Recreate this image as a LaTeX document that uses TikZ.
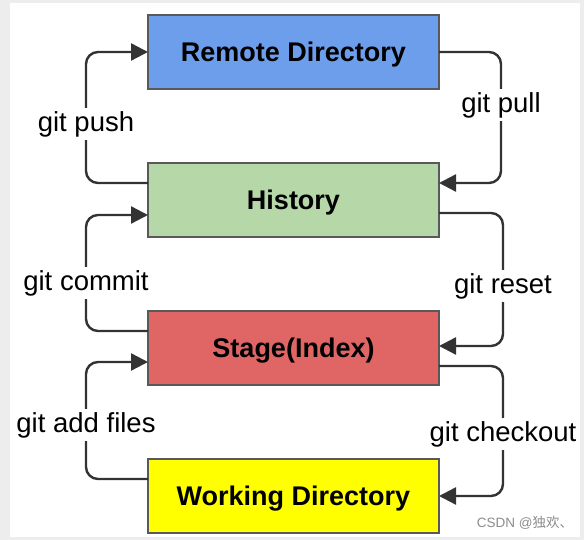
\documentclass[tikz,border=0pt]{standalone}
\usepackage{fontspec}
\setmainfont{Liberation Sans}
\newfontfamily\cjkfont{Noto Sans CJK SC}
\usetikzlibrary{arrows.meta, positioning}
\definecolor{remotefill}{HTML}{6D9EEB}
\definecolor{historyfill}{HTML}{B6D7A8}
\definecolor{stagefill}{HTML}{E06666}
\definecolor{workfill}{HTML}{FFFF00}
\definecolor{boxline}{HTML}{595959}
\definecolor{flowline}{HTML}{333333}
\tikzset{
    area/.style={
        rectangle, draw=boxline, line width=2.4pt,
        minimum width=291pt, minimum height=74pt, outer sep=0pt,
        text depth=0pt,
        font=\fontsize{27}{31}\selectfont\bfseries, align=center
    },
    cmd/.style={
        fill=white, inner sep=3pt,
        font=\fontsize{27.5}{31}\selectfont
    },
    flow/.style={-{Triangle[length=17pt, width=17pt]}, line width=2.4pt,
        draw=flowline, rounded corners=12pt}
}

\begin{document}
\begin{tikzpicture}[x=1pt, y=1pt, node distance=74pt]
    % page and frame
    \fill[black!7] (0,0) rectangle (584,540);
    \fill[white] (10,3) rectangle (580,537);

    % areas
    \node[area, fill=remotefill] (remote) at (293.5,488) {Remote Directory};
    \node[area, fill=historyfill, below=of remote] (history) {History};
    \node[area, fill=stagefill, below=of history] (stage) {Stage(Index)};
    \node[area, fill=workfill, below=of stage] (working) {Working Directory};

    % commands
    \node[cmd] (push) at (86,416) {git push};
    \node[cmd] (commit) at (86,257) {git commit};
    \node[cmd] (add) at (86,115) {git add files};
    \node[cmd] (pull) at (501,435) {git pull};
    \node[cmd] (reset) at (503,254) {git reset};
    \node[cmd] (checkout) at (503,106) {git checkout};

    \draw[flow] ([yshift=17pt]history.west) -| (push) |- (remote.west);
    \draw[flow] ([yshift=17pt]stage.west) -| (commit) |- ([yshift=-15pt]history.west);
    \draw[flow] ([yshift=17pt]working.west) -| (add) |- ([yshift=-14pt]stage.west);
    \draw[flow] (remote.east) -| (pull) |- ([yshift=17pt]history.east);
    \draw[flow] ([yshift=-13pt]history.east) -| (reset) |- ([yshift=2pt]stage.east);
    \draw[flow] ([yshift=-18pt]stage.east) -| (checkout) |- (working.east);

    % watermark
    \node[text=black!45, font=\fontsize{13.5}{15}\selectfont] (mark) at (525,17) {CSDN @\cjkfont 独欢、};
\end{tikzpicture}
\end{document}
